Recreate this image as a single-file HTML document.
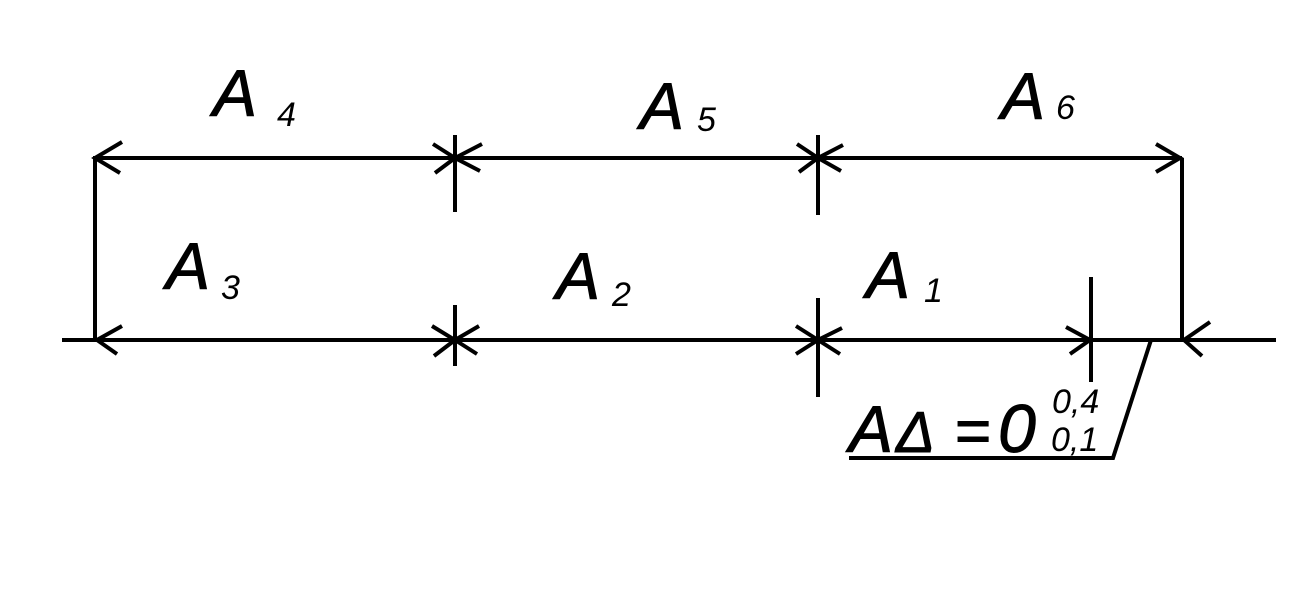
<!DOCTYPE html>
<html><head><meta charset="utf-8"><style>html,body{margin:0;padding:0;background:#fff}</style></head>
<body>
<svg width="1299" height="591" viewBox="0 0 1299 591" xmlns="http://www.w3.org/2000/svg">
<g stroke="#000" stroke-width="4" fill="none" stroke-linecap="butt">
<line x1="93" y1="158" x2="1182" y2="158"/>
<line x1="62" y1="340" x2="1276" y2="340"/>
<line x1="95" y1="158" x2="95" y2="340"/>
<line x1="1182" y1="158" x2="1182" y2="340"/>
<line x1="455" y1="135" x2="455" y2="212"/>
<line x1="455" y1="305" x2="455" y2="366"/>
<line x1="818" y1="135" x2="818" y2="215"/>
<line x1="818" y1="298" x2="818" y2="397"/>
<line x1="1091" y1="277" x2="1091" y2="382"/>
<polyline points="1151,340 1113,458 849,458"/>
<polyline points="122,142 95,158 120,173"/>
<polyline points="433,144 455,158 435,173"/>
<polyline points="482,144 455,158 480,171"/>
<polyline points="797,144 818,158 799,172"/>
<polyline points="843,145 818,158 841,171"/>
<polyline points="1156,144 1180,158 1156,172"/>
<polyline points="122,326 97,340 117,354"/>
<polyline points="432,326 455,340 434,356"/>
<polyline points="479,326 455,340 477,354"/>
<polyline points="796,326 818,340 796,354"/>
<polyline points="842,328 818,340 840,354"/>
<polyline points="1066,327 1090,340 1070,354"/>
<polyline points="1210,322 1184,340 1202,356"/>
</g>
<g font-family="Liberation Sans, sans-serif" font-style="italic" fill="#000">
<g stroke="#000" stroke-width="1">
<text x="213" y="116" font-size="66">A</text>
<text x="640" y="129" font-size="66">A</text>
<text x="1001" y="119" font-size="66">A</text>
<text x="166" y="289" font-size="66">A</text>
<text x="556" y="299" font-size="66">A</text>
<text x="866" y="298" font-size="66">A</text>
<text x="849" y="452" font-size="66">A</text>
<text x="896" y="452" font-size="58">Δ</text>
<text x="955" y="452" font-size="62" font-style="normal">=</text>
<text x="998" y="452" font-size="68">0</text>
</g>
<text x="277" y="126" font-size="34">4</text>
<text x="697" y="131" font-size="34">5</text>
<text x="1056" y="119" font-size="34">6</text>
<text x="221" y="299" font-size="34">3</text>
<text x="612" y="306" font-size="34">2</text>
<text x="924" y="302" font-size="34">1</text>
<text x="1052" y="413" font-size="34">0,4</text>
<text x="1051" y="451" font-size="34">0,1</text>
</g>
</svg>
</body></html>
